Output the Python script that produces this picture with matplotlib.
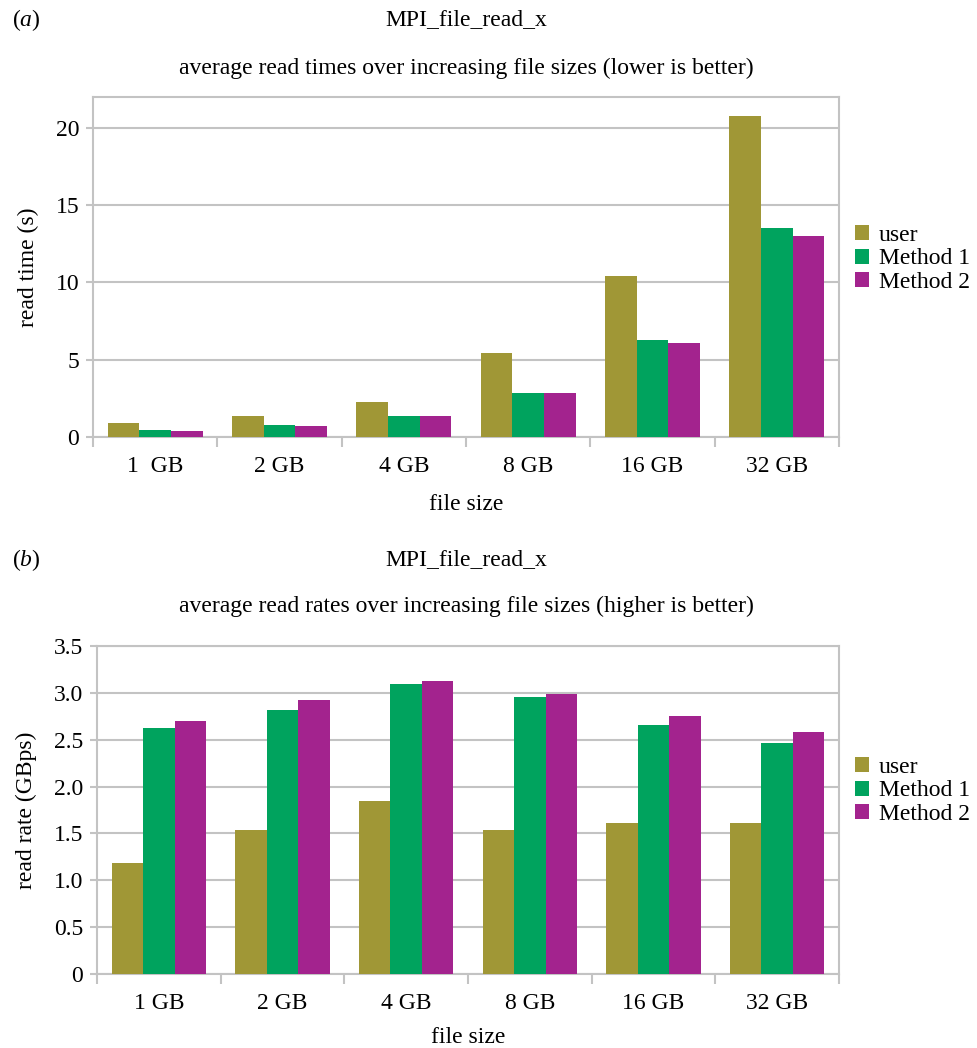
import matplotlib.pyplot as plt
import numpy as np

plt.rcParams['font.family'] = ['Liberation Serif', 'DejaVu Serif']
plt.rcParams['mathtext.fontset'] = 'custom'
plt.rcParams['mathtext.rm'] = 'Liberation Serif'
plt.rcParams['mathtext.it'] = 'Liberation Serif:italic'

series = ['user', 'Method 1', 'Method 2']
colors = ['#a09736', '#00a35e', '#a3238e']

sizes_a = ['1  GB', '2 GB', '4 GB', '8 GB', '16 GB', '32 GB']
sizes_b = ['1 GB', '2 GB', '4 GB', '8 GB', '16 GB', '32 GB']

# read times (s)
time_user = [0.93, 1.36, 2.27, 5.44, 10.43, 20.79]
time_m1 = [0.45, 0.78, 1.36, 2.85, 6.28, 13.54]
time_m2 = [0.39, 0.71, 1.36, 2.85, 6.09, 13.02]

# read rates (GBps)
rate_user = [1.18, 1.54, 1.85, 1.54, 1.61, 1.61]
rate_m1 = [2.62, 2.82, 3.09, 2.96, 2.66, 2.47]
rate_m2 = [2.70, 2.92, 3.13, 2.99, 2.75, 2.58]

W, H = 978, 1048
fig = plt.figure(figsize=(W / 100, H / 100), dpi=100)
grid_c = '#c3c3c3'
fs = 17


def panel(px, labels, data, ylim, yticks, yticklabels, ylabel, legend_y, xpad):
    left, top, right, bottom = px
    ax = fig.add_axes([left / W, 1 - bottom / H, (right - left) / W, (bottom - top) / H])
    x = np.arange(len(labels))
    w = 0.255
    for i, (vals, name, c) in enumerate(zip(data, series, colors)):
        ax.bar(x + (i - 1) * w, vals, w, color=c, label=name, zorder=3)
    ax.set_xlim(-0.5, len(labels) - 0.5)
    ax.set_ylim(*ylim)
    ax.set_yticks(yticks)
    ax.set_yticklabels(yticklabels, fontsize=fs)
    ax.set_xticks(x)
    ax.set_xticklabels(labels, fontsize=fs)
    ax.set_xticks(np.arange(-0.5, len(labels)), minor=True)
    ax.tick_params(axis='x', which='major', length=0, pad=14)
    ax.tick_params(axis='x', which='minor', length=7, color=grid_c, width=1.5)
    ax.tick_params(axis='y', length=5, color=grid_c, width=1.5, pad=5)
    ax.yaxis.grid(True, color=grid_c, linewidth=1.5, zorder=0)
    for s in ax.spines.values():
        s.set_color(grid_c)
        s.set_linewidth(1.5)
    ax.set_xlabel('file size', fontsize=fs, labelpad=xpad)
    ax.set_ylabel(ylabel, fontsize=fs, labelpad=12)
    # legend sits to the right of the plot area
    ax.legend(loc='center left',
              bbox_to_anchor=((855 - left) / (right - left), (bottom - legend_y) / (bottom - top)),
              frameon=False, fontsize=fs, handlelength=0.6, handleheight=0.6,
              handletextpad=0.4, labelspacing=0.1, borderaxespad=0, borderpad=0)
    return ax


panel((93, 97, 839, 437), sizes_a,
      [time_user, time_m1, time_m2], (0, 22), [0, 5, 10, 15, 20],
      ['0', '5', '10', '15', '20'], 'read time (s)', 259, 12)

rt = np.arange(0, 3.51, 0.5)
panel((97, 646, 839, 974), sizes_b,
      [rate_user, rate_m1, rate_m2], (0, 3.5), rt,
      ['0'] + ['%.1f' % v for v in rt[1:]], 'read rate (GBps)', 791, 9)

fig.text(12 / W, 1 - 20 / H, r'($\it{a}$)', fontsize=fs, va='center')
fig.text(466 / W, 1 - 20 / H, 'MPI_file_read_x', fontsize=fs, ha='center', va='center')
fig.text(466 / W, 1 - 68 / H, 'average read times over increasing file sizes (lower is better)',
         fontsize=fs, ha='center', va='center')

fig.text(12 / W, 1 - 560 / H, r'($\it{b}$)', fontsize=fs, va='center')
fig.text(466 / W, 1 - 560 / H, 'MPI_file_read_x', fontsize=fs, ha='center', va='center')
fig.text(466 / W, 1 - 606 / H, 'average read rates over increasing file sizes (higher is better)',
         fontsize=fs, ha='center', va='center')

fig.savefig('out.png', dpi=100)
